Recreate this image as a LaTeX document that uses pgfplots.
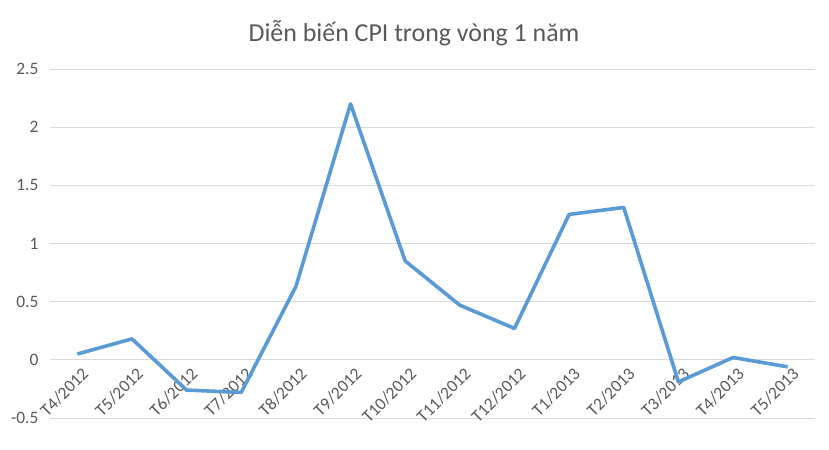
\documentclass[border=0pt]{standalone}
\usepackage{pgfplots}
\pgfplotsset{compat=1.18}
\usepackage{fontspec}
\setmainfont{Carlito}
\definecolor{lineblue}{HTML}{5B9BD5}
\definecolor{gridgray}{HTML}{D9D9D9}
\definecolor{textgray}{HTML}{595959}
\begin{document}
\begin{tikzpicture}[x=1bp,y=1bp]
\begin{axis}[
    name=main,
    scale only axis,
    width=765bp, height=349bp,
    xmin=-0.5, xmax=13.5,
    ymin=-0.5, ymax=2.5,
    ytick={-0.5,0,0.5,1,1.5,2,2.5},
    yticklabels={-0.5,0,0.5,1,1.5,2,2.5},
    xtick={0,...,13},
    xticklabels={T4/2012,T5/2012,T6/2012,T7/2012,T8/2012,T9/2012,T10/2012,T11/2012,T12/2012,T1/2013,T2/2013,T3/2013,T4/2013,T5/2013},
    axis x line*=middle,
    axis y line*=left,
    hide obscured x ticks=false,
    hide obscured y ticks=false,
    axis line style={draw=none},
    major tick style={draw=none},
    ymajorgrids=true,
    grid style={gridgray, line width=0.9bp},
    tick label style={font=\fontsize{17.5}{20}\selectfont, text=textgray},
    x tick label style={rotate=45, anchor=north east, inner sep=0bp, xshift=-2bp, yshift=-7bp},
    y tick label style={xshift=-8bp},
    /pgf/number format/assume math mode=true,
    clip=false,
]
\addplot[color=lineblue, line width=3.6bp, line join=round, mark=none]
    coordinates {
    (0,0.05)(1,0.18)(2,-0.26)(3,-0.28)(4,0.63)(5,2.2)(6,0.85)
    (7,0.47)(8,0.27)(9,1.25)(10,1.31)(11,-0.19)(12,0.02)(13,-0.06)
    };
\end{axis}
\node[font=\fontsize{26}{30}\selectfont, text=textgray] at ([xshift=364bp,yshift=36bp]main.north west) {Diễn biến CPI trong vòng 1 năm};
\pgfresetboundingbox
\path[use as bounding box] ([xshift=-50bp,yshift=-32bp]main.south west) rectangle ([xshift=14bp,yshift=69bp]main.north east);
\end{tikzpicture}
\end{document}
